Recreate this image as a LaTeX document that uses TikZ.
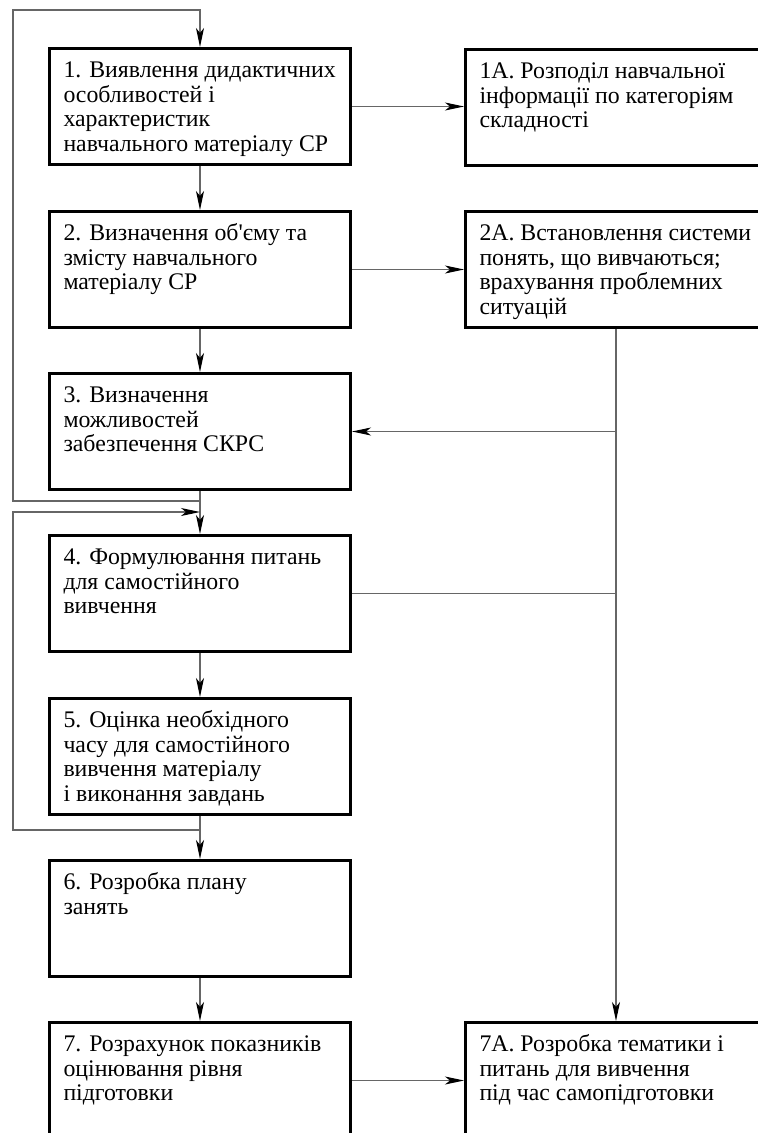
\documentclass[tikz,border=0pt]{standalone}
\usepackage{fontspec}
\setmainfont{Liberation Serif}
\usetikzlibrary{arrows.meta}

\tikzset{
  stepbox/.style={draw, line width=3pt, anchor=north west, inner sep=0pt,
    minimum width=301pt, minimum height=116pt},
  link/.style={line width=1.1pt, draw=black!60},
  arr/.style={link, -{Stealth[length=19pt, width=8pt, inset=5pt, color=black]}},
}
\newcommand{\boxtext}[1]{\parbox[c][116pt][t]{301pt}{\raggedright\leftskip=14pt
  \fontsize{23.8}{24.5}\selectfont\rule{0pt}{29pt}#1}}

\begin{document}
\begin{tikzpicture}[x=1pt, y=-1pt]
	\useasboundingbox (0,0) rectangle (758,1133);
	\clip (0,0) rectangle (758,1133);
	
	% left column
	\node[stepbox] (s1) at (48,47) {\boxtext{1. Виявлення дидактичних\\особливостей і\\характеристик\\навчального матеріалу СР}};
	\node[stepbox] (s2) at (48,210) {\boxtext{2. Визначення об\textquotesingle єму та\\змісту навчального\\матеріалу СР}};
	\node[stepbox] (s3) at (48,372) {\boxtext{3. Визначення\\можливостей\\забезпечення СКРС}};
	\node[stepbox] (s4) at (48,534) {\boxtext{4. Формулювання питань\\для самостійного\\вивчення}};
	\node[stepbox] (s5) at (48,697) {\boxtext{5. Оцінка необхідного\\часу для самостійного\\вивчення матеріалу\\і виконання завдань}};
	\node[stepbox] (s6) at (48,859) {\boxtext{6. Розробка плану\\занять}};
	\node[stepbox] (s7) at (48,1021) {\boxtext{7. Розрахунок показників\\оцінювання рівня\\підготовки}};
	
	% right column
	\node[stepbox] (s1a) at (464,48) {\boxtext{1А. Розподіл навчальної\\інформації по категоріям\\складності}};
	\node[stepbox] (s2a) at (464,210) {\boxtext{2А. Встановлення системи\\понять, що вивчаються;\\врахування проблемних\\ситуацій}};
	\node[stepbox] (s7a) at (464,1021) {\boxtext{7А. Розробка тематики і\\питань для вивчення\\під час самопідготовки}};
	
	\coordinate (corner) at (13,10);
	\coordinate (lp1) at ([yshift=-10pt]s3.south);
	\coordinate (lp2) at ([yshift=-14pt]s5.south);
	\coordinate (lp2in) at ([yshift=-21pt]s3.south);
	\coordinate (j3) at (s2a.south |- s3.east);
	
	\draw[arr] (s1) -- (s2);
	\draw[arr] (s2) -- (s3);
	\draw[arr] (s3) -- (s4);
	\draw[arr] (s4) -- (s5);
	\draw[arr] (s5) -- (s6);
	\draw[arr] (s6) -- (s7);
	
	\draw[arr] (s1.east) -- (s1.east -| s1a.west);
	\draw[arr] (s2.east) -- (s2a.west);
	\draw[arr] (s7.east) -- (s7a.west);
	
	\draw[arr] (s2a) -- (s7a);
	\draw[arr] (j3) -- (s3.east);
	\draw[link] (s4.east) -- (s4.east -| s2a.south);
	
	% feedback loops
	\draw[arr] (lp1) -| (corner) -| (s1.north);
	\draw[arr] (lp2) -| (corner |- lp2in) -- (lp2in);
	
\end{tikzpicture}
\end{document}
